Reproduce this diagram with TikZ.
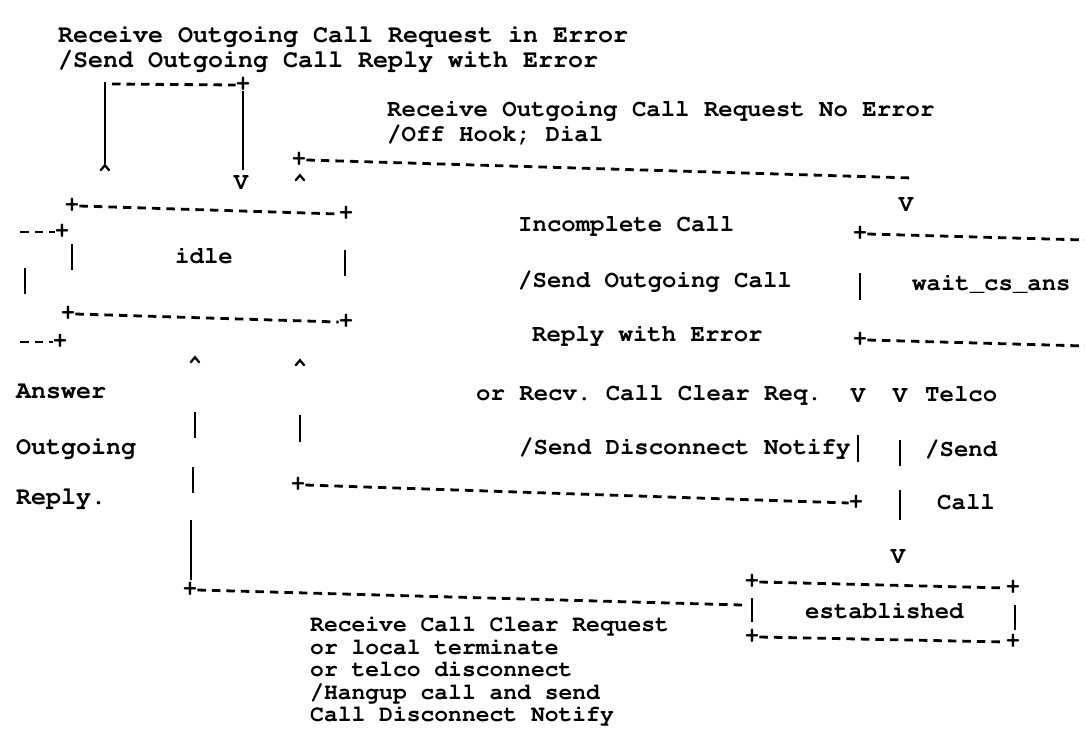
\documentclass[tikz,border=0pt]{standalone}
\usepackage[T1,TU]{fontenc}
% Courier (pcr) in T1 encoding, set at an exact size
\newcommand\monofont[1]{\fontencoding{T1}\fontfamily{pcr}\fontseries{b}\fontshape{n}\fontsize{#1}{#1}\selectfont\frenchspacing}
\tikzset{
  txt/.style={anchor=base west, inner sep=0pt, font=\monofont{24}},
  bigtxt/.style={txt, font=\monofont{25}},
  smalltxt/.style={txt, font=\monofont{23}},
  glyph/.style={inner sep=0pt, font=\monofont{24}},
  caret/.style={anchor=north, inner sep=0pt, font=\monofont{24}},
  dline/.style={line width=2.8pt, dash pattern=on 8.5pt off 6pt},
  bar/.style={line width=2.5pt},
}
\begin{document}
\begin{tikzpicture}[x=1pt,y=-1pt]
\fill[white] (0,0) rectangle (1085,751);
\useasboundingbox (0,0) rectangle (1085,751);

% ---------- transition labels ----------
\node[bigtxt] (errreq)  at (58,43) {Receive Outgoing Call Request in Error};
\node[bigtxt] (errrep)  at (58,68) {/Send Outgoing Call Reply with Error};
\node[txt] (okreq) at (387,117) {Receive Outgoing Call Request No Error};
\node[txt] (okact) at (387,142) {/Off Hook; Dial};
\node[txt] (inc1) at (518,232) {Incomplete Call};
\node[txt] (inc2) at (518,288) {/Send Outgoing Call};
\node[txt] (inc3) at (532,342) {Reply with Error};
\node[txt] (inc4) at (476,400) {or Recv. Call Clear Req.};
\node[txt] (inc5) at (519,454) {/Send Disconnect Notify};
\node[bigtxt] (ans1) at (16,399) {Answer};
\node[bigtxt] (ans2) at (16,454) {Outgoing};
\node[bigtxt] (ans3) at (16,504) {Reply.};
\node[txt] (tel1) at (925,402) {Telco};
\node[txt] (tel2) at (925,456) {/Send};
\node[txt] (tel3) at (937,509) {Call};
\node[smalltxt] (clr1) at (310,631) {Receive Call Clear Request};
\node[smalltxt] (clr2) at (310,654) {or local terminate};
\node[smalltxt] (clr3) at (310,676) {or telco disconnect};
\node[smalltxt] (clr4) at (310,699) {/Hangup call and send};
\node[smalltxt] (clr5) at (310,721) {Call Disconnect Notify};

% ---------- state names ----------
\node[txt] (idle)  at (175,264) {idle};
\node[txt] (wait)  at (912,291) {wait\_cs\_ans};
\node[txt] (estab) at (805,618) {established};

% ---------- corner marks ----------
\node[glyph] (lp)  at (243,85)  {+};
\node[glyph] (s0)  at (299,160) {+};
\node[glyph] (itl) at (72,206)  {+};
\node[glyph] (itr) at (346,214) {+};
\node[glyph] (ibl) at (68,314)  {+};
\node[glyph] (ibr) at (346,322) {+};
\node[glyph] (is1) at (62,232)  {+};
\node[glyph] (is2) at (60,342)  {+};
\node[glyph] (wtl) at (860,234) {+};
\node[glyph] (wbl) at (860,340) {+};
\node[glyph] (m0)  at (298,485) {+};
\node[glyph] (m1)  at (856,503) {+};
\node[glyph] (b0)  at (190,590) {+};
\node[glyph] (etl) at (752,582) {+};
\node[glyph] (etr) at (1013,588) {+};
\node[glyph] (ebl) at (752,637) {+};
\node[glyph] (ebr) at (1013,642) {+};

% ---------- arrow heads ----------
\node[glyph] (v1) at (241,183) {V};
\node[glyph] (v2) at (906,205) {V};
\node[glyph] (v3) at (858,396) {V};
\node[glyph] (v4) at (900,396) {V};
\node[glyph] (v5) at (898,557) {V};
\node[caret] (c1) at (105,164) {\textasciicircum};
\node[caret] (c2) at (300,174) {\textasciicircum};
\node[caret] (c3) at (195,356) {\textasciicircum};
\node[caret] (c4) at (300,359) {\textasciicircum};

% ---------- free ends of the dashed runs ----------
\coordinate (lt)  at (112,84);
\coordinate (s1)  at (912,178);
\coordinate (st1) at (20,232);
\coordinate (st2) at (20,342);
\coordinate (wtr) at (1085,240);
\coordinate (wbr) at (1085,346);
\coordinate (b1)  at (742,605);

% ---------- dashed runs ----------
\draw[dline] (lt) -- (lp.west);
\draw[dline] (s0.east) -- (s1);
\draw[dline] (itl.east) -- (itr.west);
\draw[dline] (ibl.east) -- (ibr.west);
\draw[dline] (st1) -- (is1.west);
\draw[dline] (st2) -- (is2.west);
\draw[dline] (wtl.east) -- (wtr);
\draw[dline] (wbl.east) -- (wbr);
\draw[dline] (m0.east) -- (m1.west);
\draw[dline] (b0.east) -- (b1);
\draw[dline] (etl.east) -- (etr.west);
\draw[dline] (ebl.east) -- (ebr.west);

% ---------- vertical bars ----------
\draw[bar] (105,82) -- (c1.north);
\draw[bar] (lp.south) -- (243,170);
\draw[bar] (72,244) -- (72,270);
\draw[bar] (345,250) -- (345,276);
\draw[bar] (25,268) -- (25,294);
\draw[bar] (860,273) -- (860,300);
\draw[bar] (195,412) -- (195,438);
\draw[bar] (300,415) -- (300,442);
\draw[bar] (193,467) -- (193,493);
\draw[bar] (191,520) -- (191,580);
\draw[bar] (858,435) -- (858,462);
\draw[bar] (900,440) -- (900,466);
\draw[bar] (900,490) -- (900,520);
\draw[bar] (752,598) -- (752,622);
\draw[bar] (1015,605) -- (1015,630);
\end{tikzpicture}
\end{document}
